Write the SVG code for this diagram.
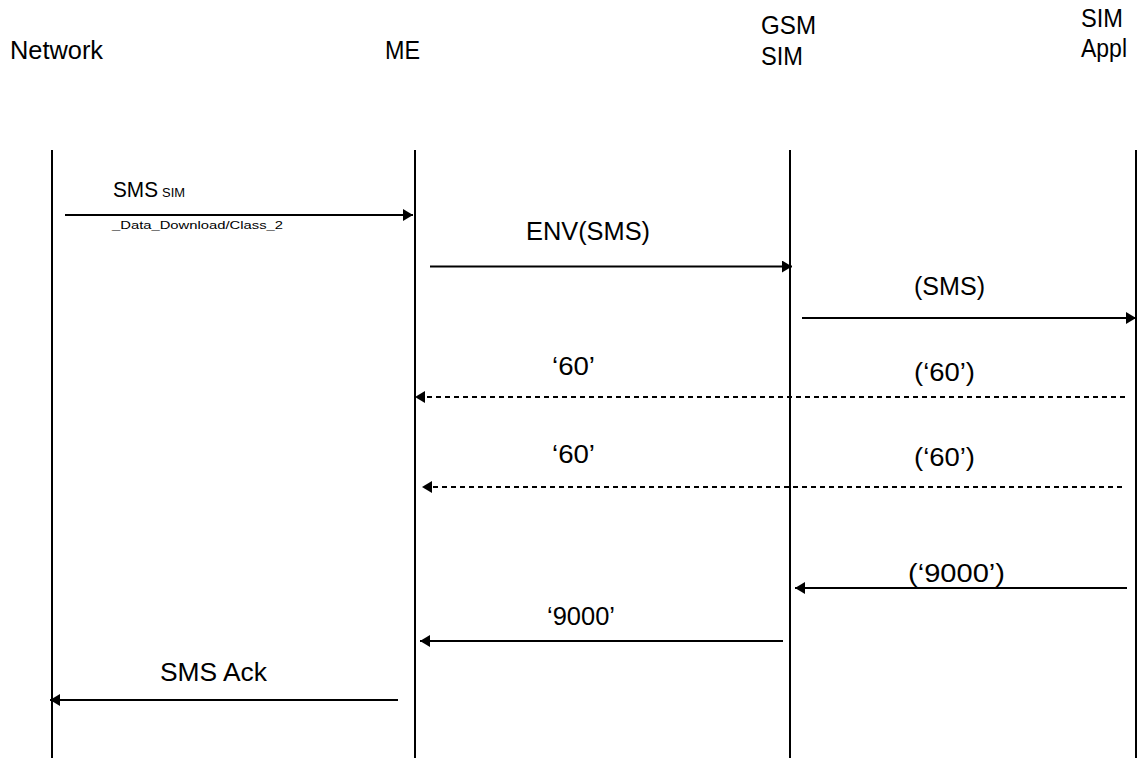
<svg xmlns="http://www.w3.org/2000/svg" width="1140" height="758" viewBox="0 0 1140 758">
<style>
text{font-family:"Liberation Sans",Arial,sans-serif;fill:#000}
.hd{font-size:25px}
.lb{font-size:26px}
.sm{font-size:22px}
.small{font-size:11.5px}
.sub{font-size:12px}
.life{stroke:#000;stroke-width:2;fill:none}
.msg{stroke:#000;stroke-width:2;fill:none}
.dash{stroke-dasharray:5,4}
</style>
<defs>
<marker id="ah" viewBox="0 0 10 12" refX="10" refY="6" markerWidth="10" markerHeight="12" markerUnits="userSpaceOnUse" orient="auto">
<path d="M0,0 L10,6 L0,12 Z" fill="#000"/>
</marker>
</defs>
<g id="network"><text class="hd" x="10" y="59" textLength="93" lengthAdjust="spacingAndGlyphs">Network</text><line class="life" x1="52" y1="150" x2="52" y2="758"/></g>
<g id="me"><text class="hd" x="385" y="59" textLength="35" lengthAdjust="spacingAndGlyphs">ME</text><line class="life" x1="415" y1="150" x2="415" y2="758"/></g>
<g id="gsmsim"><text class="hd" x="761" y="34" textLength="55" lengthAdjust="spacingAndGlyphs">GSM</text><text class="hd" x="761" y="65" textLength="42" lengthAdjust="spacingAndGlyphs">SIM</text><line class="life" x1="790" y1="150" x2="790" y2="758"/></g>
<g id="simappl"><text class="hd" x="1081" y="27" textLength="42" lengthAdjust="spacingAndGlyphs">SIM</text><text class="hd" x="1081" y="57" textLength="46" lengthAdjust="spacingAndGlyphs">Appl</text><line class="life" x1="1136" y1="150" x2="1136" y2="758"/></g>
<g id="connectors">
<line class="msg" x1="65" y1="215" x2="413" y2="215" marker-end="url(#ah)"/>
<line class="msg" x1="430" y1="266.5" x2="792" y2="266.5" marker-end="url(#ah)"/>
<line class="msg" x1="802" y1="318" x2="1136" y2="318" marker-end="url(#ah)"/>
<line class="msg dash" x1="1125" y1="397" x2="415" y2="397" marker-end="url(#ah)"/>
<line class="msg dash" x1="1122" y1="487" x2="422" y2="487" marker-end="url(#ah)"/>
<line class="msg" x1="1127" y1="588" x2="795" y2="588" marker-end="url(#ah)"/>
<line class="msg" x1="783" y1="641" x2="420" y2="641" marker-end="url(#ah)"/>
<line class="msg" x1="398" y1="700" x2="50" y2="700" marker-end="url(#ah)"/>
</g>
<g id="labels">
<text class="sm" x="113" y="197" textLength="45" lengthAdjust="spacingAndGlyphs">SMS</text>
<text class="sub" x="162" y="197" textLength="23" lengthAdjust="spacingAndGlyphs">SIM</text>
<text class="small" x="112" y="229" textLength="171" lengthAdjust="spacingAndGlyphs">_Data_Download/Class_2</text>
<text class="lb" x="526" y="240" textLength="124" lengthAdjust="spacingAndGlyphs">ENV(SMS)</text>
<text class="lb" x="914" y="295" textLength="71" lengthAdjust="spacingAndGlyphs">(SMS)</text>
<text class="lb" x="552" y="375" textLength="43" lengthAdjust="spacingAndGlyphs">‘60’</text>
<text class="lb" x="914" y="381" textLength="61" lengthAdjust="spacingAndGlyphs">(‘60’)</text>
<text class="lb" x="552" y="463" textLength="43" lengthAdjust="spacingAndGlyphs">‘60’</text>
<text class="lb" x="914" y="466" textLength="61" lengthAdjust="spacingAndGlyphs">(‘60’)</text>
<text class="lb" x="908" y="582" textLength="97" lengthAdjust="spacingAndGlyphs">(‘9000’)</text>
<text class="lb" x="547" y="625" textLength="68" lengthAdjust="spacingAndGlyphs">‘9000’</text>
<text class="lb" x="160" y="681" textLength="107" lengthAdjust="spacingAndGlyphs">SMS Ack</text>
</g>
</svg>
